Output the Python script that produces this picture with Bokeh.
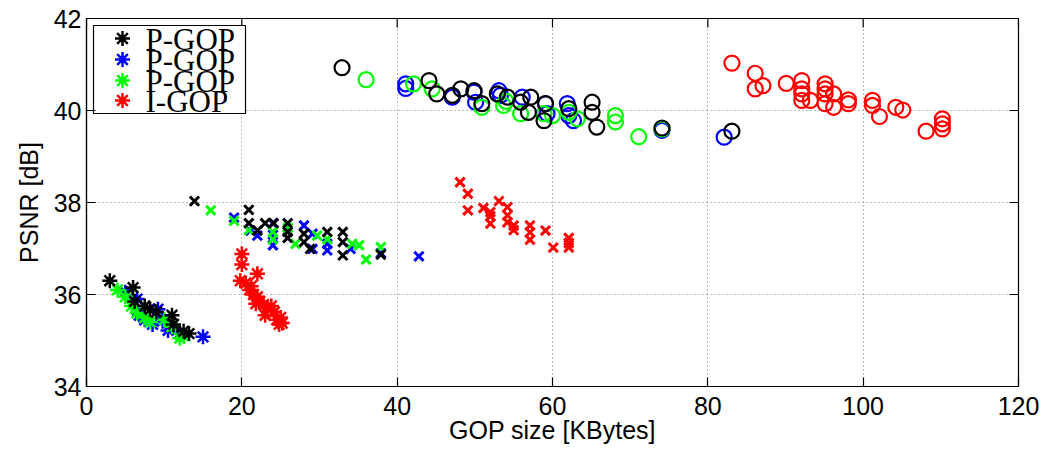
from bokeh.plotting import figure
from bokeh.models import Range1d, FixedTicker
from bokeh.core.properties import value
from bokeh.embed import file_html
from bokeh.resources import INLINE

x_min, x_max = 0, 120
y_min, y_max = 34, 42
x_ticks = [0, 20, 40, 60, 80, 100, 120]
y_ticks = [34, 36, 38, 40, 42]
legend_labels = ["P-GOP", "P-GOP", "P-GOP", "I-GOP"]

# ---- black series ----
black_star_x = [3.0, 6.0, 6.2, 7.5, 8.2, 9.0, 11.0, 11.2, 12.5, 13.2]
black_star_y = [36.30, 36.15, 35.85, 35.75, 35.68, 35.62, 35.55, 35.35, 35.20, 35.15]
black_x_x = [13.9, 20.9, 20.9, 22.0, 23.0, 24.1, 25.9, 25.9, 25.9, 28.0, 28.0, 28.8, 31.0, 33.0, 33.0, 33.0, 37.9]
black_x_y = [38.03, 37.84, 37.55, 37.39, 37.55, 37.55, 37.55, 37.36, 37.23, 37.32, 37.14, 36.99, 37.36, 37.36, 37.14, 36.85, 36.87]
black_o_x = [32.9, 44.1, 45.1, 47.1, 48.2, 49.9, 50.9, 52.9, 54.2, 55.9, 57.2, 56.9, 58.9, 59.1, 62.1, 65.1, 65.1, 65.7, 74.1, 83.1]
black_o_y = [40.93, 40.65, 40.36, 40.33, 40.47, 40.43, 40.15, 40.36, 40.29, 40.18, 40.29, 39.96, 39.78, 40.15, 40.04, 40.18, 39.96, 39.64, 39.62, 39.55]

# ---- blue series ----
blue_star_x = [5.0, 6.5, 6.8, 7.5, 8.5, 9.2, 9.8, 10.5, 11.0, 12.0, 15.0]
blue_star_y = [36.05, 35.90, 35.55, 35.45, 35.35, 35.68, 35.42, 35.22, 35.30, 35.15, 35.08]
blue_x_x = [19.0, 21.1, 22.0, 24.0, 24.0, 24.0, 28.0, 29.1, 29.1, 31.0, 31.0, 34.0, 37.9, 42.8]
blue_x_y = [37.67, 37.39, 37.28, 37.55, 37.30, 37.07, 37.50, 37.32, 36.99, 36.96, 37.10, 36.99, 36.90, 36.83]
blue_o_x = [41.1, 41.1, 47.1, 49.9, 50.1, 53.1, 53.3, 56.1, 59.1, 59.3, 61.9, 62.1, 62.7, 74.1, 82.1]
blue_o_y = [40.58, 40.48, 40.29, 40.40, 40.18, 40.43, 40.33, 40.29, 40.15, 39.93, 40.15, 39.89, 39.78, 39.57, 39.42]

# ---- green series ----
green_star_x = [4.0, 5.0, 5.8, 6.5, 7.5, 8.2, 10.0, 11.0, 12.0, 12.5]
green_star_y = [36.10, 35.95, 35.75, 35.60, 35.50, 35.40, 35.45, 35.30, 35.05, 35.10]
green_x_x = [16.0, 19.0, 20.9, 24.0, 24.0, 25.9, 26.9, 29.7, 31.0, 34.2, 35.1, 36.0, 37.9]
green_x_y = [37.83, 37.60, 37.40, 37.36, 37.20, 37.45, 37.10, 37.28, 37.20, 37.10, 37.07, 36.76, 37.03]
green_o_x = [36.0, 42.1, 44.5, 50.9, 53.7, 54.0, 55.9, 58.9, 60.0, 62.1, 63.2, 68.1, 68.1, 71.1, 74.1]
green_o_y = [40.67, 40.58, 40.47, 40.07, 40.11, 40.20, 39.93, 39.93, 39.89, 39.96, 39.82, 39.89, 39.75, 39.43, 39.60]

# ---- red series ----
red_star_x = [20.0, 20.0, 19.8, 20.5, 21.0, 22.0, 21.2, 21.5, 22.0, 22.3, 22.8, 21.8, 23.2, 23.0, 23.8, 24.2, 24.5, 25.0, 25.2, 24.8]
red_star_y = [36.88, 36.65, 36.30, 36.25, 36.10, 36.45, 36.18, 36.00, 35.95, 35.85, 35.78, 35.80, 35.70, 35.55, 35.75, 35.62, 35.45, 35.50, 35.38, 35.35]
red_x_x = [48.1, 49.1, 49.1, 51.1, 52.0, 53.1, 54.2, 52.0, 52.0, 54.2, 54.2, 55.0, 55.0, 57.1, 57.1, 57.1, 59.1, 60.1, 62.1, 62.1, 62.1]
red_x_y = [38.44, 38.19, 37.83, 37.88, 37.79, 38.03, 37.90, 37.70, 37.54, 37.72, 37.57, 37.50, 37.40, 37.50, 37.35, 37.19, 37.39, 37.02, 37.23, 37.02, 37.12]
red_o_x = [83.1, 86.1, 86.1, 87.1, 90.1, 92.1, 92.1, 92.1, 92.1, 93.2, 95.1, 95.1, 95.1, 95.1, 96.2, 96.2, 98.1, 98.1, 101.2, 101.2, 102.1, 104.2, 105.1, 108.1, 110.2, 110.2, 110.2]
red_o_y = [41.03, 40.81, 40.47, 40.54, 40.59, 40.65, 40.47, 40.36, 40.22, 40.22, 40.58, 40.47, 40.36, 40.15, 40.36, 40.07, 40.23, 40.15, 40.22, 40.11, 39.87, 40.07, 40.01, 39.55, 39.82, 39.71, 39.60]

FONT = "Liberation Sans"

# ---- layout (pixels) ----
W, H = 1050, 451
FL, FR, FT, FB = 86, 1018, 18, 386   # frame edges
TICK = 9                             # inward tick length, px


def px_x(px):
    return x_min + (px - FL) / (FR - FL) * (x_max - x_min)


def px_y(py):
    return y_max - (py - FT) / (FB - FT) * (y_max - y_min)


p = figure(width=W, height=H, output_backend="svg", toolbar_location=None,
           x_range=Range1d(x_min, x_max), y_range=Range1d(y_min, y_max),
           min_border_left=FL, min_border_right=W - FR, min_border_top=FT,
           min_border_bottom=H - FB,
           background_fill_color="white", border_fill_color="white")
p.outline_line_color = "black"
p.outline_line_width = 1.2

p.xaxis.axis_label = "GOP size [KBytes]"
p.yaxis.axis_label = "PSNR [dB]"


def style_axis(ax, ticks):
    ax.ticker = FixedTicker(ticks=ticks)
    ax.major_tick_in = TICK
    ax.major_tick_out = 0
    ax.minor_tick_in = 0
    ax.minor_tick_out = 0
    ax.major_tick_line_color = "black"
    ax.major_tick_line_width = 1.2
    ax.axis_line_color = "black"
    ax.axis_line_width = 1.2
    ax.major_label_text_font = FONT
    ax.major_label_text_color = "black"
    ax.major_label_text_font_size = "25px"
    ax.axis_label_text_font = FONT
    ax.axis_label_text_font_style = "normal"
    ax.axis_label_text_font_size = "25px"
    ax.axis_label_text_color = "black"


style_axis(p.xaxis[0], x_ticks)
style_axis(p.yaxis[0], y_ticks)
p.xaxis[0].major_label_standoff = 10
p.xaxis[0].axis_label_standoff = -2
p.yaxis[0].axis_label_standoff = 8

p.xgrid.ticker = FixedTicker(ticks=x_ticks)
p.ygrid.ticker = FixedTicker(ticks=y_ticks)
for g in (p.xgrid[0], p.ygrid[0]):
    g.grid_line_color = "#7a7a7a"
    g.grid_line_dash = "1 3"
    g.grid_line_width = 1

# mirrored inward ticks on the top and right edges of the box
dy_tick = TICK / (FB - FT) * (y_max - y_min)
dx_tick = TICK / (FR - FL) * (x_max - x_min)
p.segment(x0=x_ticks, y0=[y_max] * len(x_ticks), x1=x_ticks, y1=[y_max - dy_tick] * len(x_ticks),
          line_color="black", line_width=1.2)
p.segment(x0=[x_max] * len(y_ticks), y0=y_ticks, x1=[x_max - dx_tick] * len(y_ticks), y1=y_ticks,
          line_color="black", line_width=1.2)

colors = {"black": "#000000", "blue": "#0000ff", "green": "#00ff00", "red": "#ff0000"}

series = [
    ("blue", blue_star_x, blue_star_y, blue_x_x, blue_x_y, blue_o_x, blue_o_y),
    ("green", green_star_x, green_star_y, green_x_x, green_x_y, green_o_x, green_o_y),
    ("black", black_star_x, black_star_y, black_x_x, black_x_y, black_o_x, black_o_y),
    ("red", red_star_x, red_star_y, red_x_x, red_x_y, red_o_x, red_o_y),
]
STAR = dict(marker="asterisk", size=15, line_width=2.5)
for name, sx, sy, xx, xy, ox, oy in series:
    c = colors[name]
    p.scatter(ox, oy, marker="circle", size=15, fill_color=None, line_color=c, line_width=2.2)
    p.scatter(xx, xy, marker="x", size=13, line_color=c, line_width=3)
    p.scatter(sx, sy, line_color=c, **STAR)

# ---- legend (drawn as a boxed key in the top-left corner) ----
LG_L, LG_R, LG_T, LG_B = 93, 245, 25, 113
row_py = [38, 59, 80, 100]
key_px, text_px = 122, 145
legend_colors = [colors[n] for n in ["black", "blue", "green", "red"]]
p.quad(left=[px_x(LG_L)], right=[px_x(LG_R)], top=[px_y(LG_T)], bottom=[px_y(LG_B)],
       fill_color="white", line_color="black", line_width=1.2)
p.scatter([px_x(key_px)] * 4, [px_y(r) for r in row_py], line_color=legend_colors, **STAR)
p.text([px_x(text_px)] * 4, [px_y(r + 1) for r in row_py], text=legend_labels,
       text_font=value("Liberation Serif"), text_font_size="31px",
       text_align="left", text_baseline="middle", text_color="black")

open("out.html", "w").write(file_html(p, INLINE))
